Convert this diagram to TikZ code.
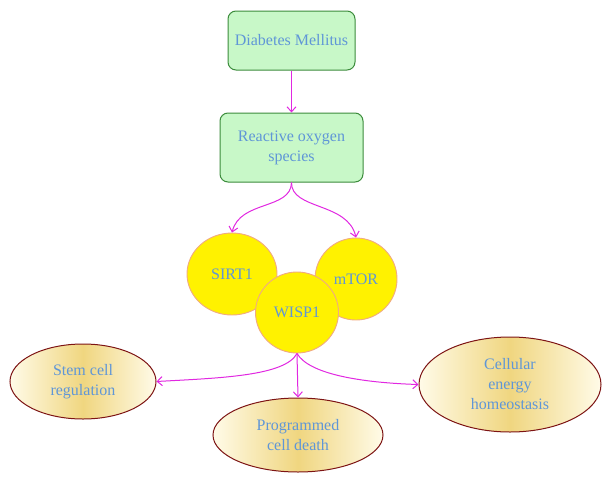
\documentclass[tikz,border=0pt]{standalone}
\usepackage{fontspec}
\setmainfont{Liberation Serif}
\usetikzlibrary{shapes.geometric,arrows.meta}
\definecolor{txtblue}{RGB}{95,150,215}
\definecolor{boxfill}{RGB}{200,248,200}
\definecolor{boxline}{RGB}{60,140,60}
\definecolor{circline}{RGB}{240,170,130}
\definecolor{elline}{RGB}{125,20,20}
\definecolor{elgold}{RGB}{240,214,128}
\definecolor{elcream}{RGB}{255,251,232}
\definecolor{arrmag}{RGB}{225,40,225}
\tikzset{
  lbl/.style={text=txtblue, font=\fontsize{16}{20}\selectfont, align=center, inner sep=0pt},
  greenbox/.style={lbl, draw=boxline, fill=boxfill, line width=1pt, rounded corners=8pt},
  yelcirc/.style={lbl, ellipse, draw=circline, fill=yellow, line width=0.9pt},
  goldell/.style={lbl, ellipse, draw=elline, line width=1pt, left color=elcream, right color=elcream, middle color=elgold},
  conn/.style={draw=arrmag, line width=1pt, -{Straight Barb[length=5pt,width=9pt]}}
}
\begin{document}
\begin{tikzpicture}[x=1pt,y=-1pt]
\useasboundingbox (0,0) rectangle (611,483);
\node[greenbox, minimum width=127pt, minimum height=59pt] (dm) at (291.5,40.5) {Diabetes Mellitus};
\node[greenbox, minimum width=143pt, minimum height=69pt] (ros) at (291.5,147.5) {Reactive oxygen\\species};
\node[yelcirc, minimum width=90pt, minimum height=82pt] (sirt) at (232,274) {SIRT1};
\node[yelcirc, minimum width=82pt, minimum height=82pt] (mtor) at (356,279) {mTOR};
\node[yelcirc, minimum width=83pt, minimum height=81pt] (wisp) at (297,312.5) {WISP1};
\node[goldell, minimum width=146pt, minimum height=75pt] (stem) at (83,381.5) {Stem cell\\regulation};
\node[goldell, minimum width=170pt, minimum height=74pt] (pcd) at (298,435) {Programmed\\cell death};
\node[goldell, minimum width=182pt, minimum height=95pt] (ceh) at (510,384.5) {Cellular\\energy\\homeostasis};
\draw[conn] (dm.south) -- (ros.north);
\draw[conn] (ros.south) .. controls (291,210) and (240,200) .. (sirt.north);
\draw[conn] (ros.south) .. controls (291,210) and (348,202) .. (mtor.north);
\draw[conn] (wisp.south) .. controls (285,376) and (220,378) .. (stem.east);
\draw[conn] (wisp.south) -- (pcd.north);
\draw[conn] (wisp.south) .. controls (310,376) and (370,383) .. (ceh.west);
\end{tikzpicture}
\end{document}
